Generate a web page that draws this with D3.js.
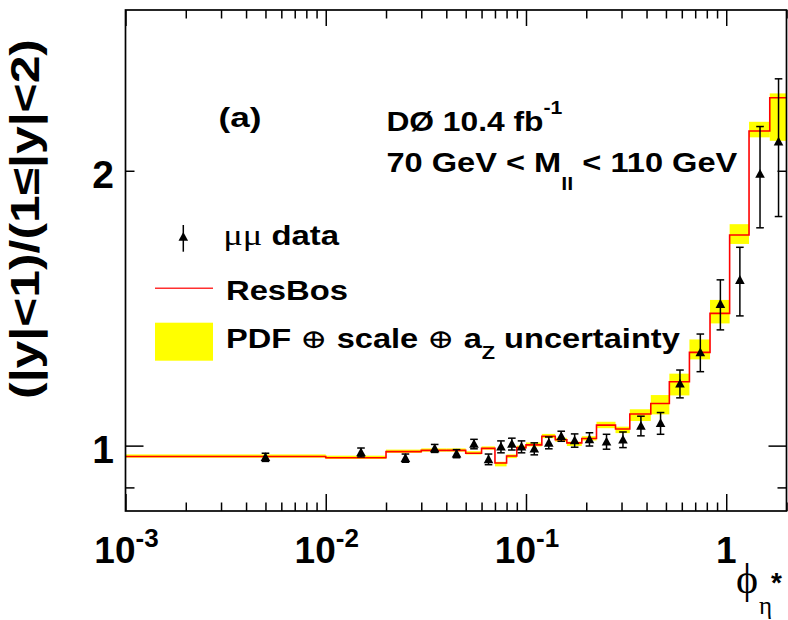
<!DOCTYPE html>
<html><head><meta charset="utf-8">
<script src="https://cdn.jsdelivr.net/npm/d3@7"></script>
<style>body{margin:0;background:#fff} svg{display:block}</style>
</head><body><svg id="c" width="788" height="620"></svg>
<script>
// ---------- data ----------
const binEdges = [0,0.01,0.02,0.03,0.04,0.05,0.06,0.07,0.08,0.09,0.10,0.12,0.14,0.16,0.19,0.225,0.28,0.33,0.42,0.52,0.655,0.83,1.04,1.30,1.65,2.0];
const resbos   = [0.973,0.970,0.985,0.988,0.988,0.981,0.993,0.957,0.974,0.995,1.002,1.024,1.015,1.007,1.018,1.053,1.043,1.083,1.112,1.175,1.265,1.396,1.701,2.211,2.404];
const bandLow  = [0.970,0.967,0.982,0.985,0.985,0.978,0.990,0.949,0.969,0.991,0.998,1.019,1.010,0.999,1.013,1.045,1.032,1.064,1.082,1.135,1.243,1.361,1.663,2.176,2.157];
const bandHigh = [0.978,0.975,0.990,0.993,0.993,0.986,0.998,0.960,0.978,1.000,1.008,1.030,1.020,1.010,1.024,1.062,1.049,1.096,1.136,1.199,1.307,1.444,1.748,2.263,2.431];
const dataX   = [0.005,0.015,0.025,0.035,0.045,0.055,0.065,0.075,0.085,0.095,0.11,0.13,0.15,0.175,0.2075,0.2525,0.305,0.375,0.47,0.5875,0.7425,0.935,1.17,1.475,1.825];
const dataY   = [0.971,0.983,0.969,0.993,0.980,1.004,0.966,0.997,1.004,0.997,0.992,1.007,1.024,1.013,1.016,1.010,1.015,1.051,1.058,1.169,1.265,1.429,1.518,1.984,2.152];
const dataErr = [0.010,0.011,0.010,0.010,0.010,0.012,0.013,0.015,0.015,0.015,0.015,0.015,0.013,0.017,0.017,0.019,0.020,0.026,0.029,0.041,0.060,0.090,0.131,0.252,0.370];
const xMajorTicks = [0.001,0.01,0.1,1];
const xTickBase   = ["10","10","10","1"];
const xTickExp    = ["-3","-2","-1",""];
const yLongTicks  = [1];
const yShortTicks = [0.9,2];
const yTickValues = [1,2];
const yTickLabels = ["1","2"];

// ---------- layout ----------
const L=125.5,R=786.5,T=10,B=511;
const svg=d3.select("#c");
const x=d3.scaleLog().domain([1e-3,2]).range([L,R]);
const y=d3.scaleLog().domain([0.848,3]).range([B,T]);
const cx=v=>x(Math.max(v,1e-3));
const SANS="'Liberation Sans',Arial,Helvetica,sans-serif";
const SERIF="'Liberation Serif','DejaVu Serif',serif";

const plot=svg.append("g");
// uncertainty band
plot.selectAll("rect.band").data(resbos).enter().append("rect")
  .attr("x",(d,i)=>cx(binEdges[i])).attr("width",(d,i)=>cx(binEdges[i+1])-cx(binEdges[i]))
  .attr("y",(d,i)=>y(bandHigh[i])).attr("height",(d,i)=>y(bandLow[i])-y(bandHigh[i]))
  .attr("fill","#ffff00");
// ResBos histogram
const stepPts=resbos.map((v,i)=>[binEdges[i],v]).concat([[binEdges[binEdges.length-1],resbos[resbos.length-1]]]);
plot.append("path").datum(stepPts)
  .attr("d",d3.line().x(d=>cx(d[0])).y(d=>y(d[1])).curve(d3.curveStepAfter))
  .attr("fill","none").attr("stroke","#ff0000").attr("stroke-width",1.6);

// data points
const tri="M0,-5L4.8,3.8L-4.8,3.8Z";
const pts=plot.selectAll("g.pt").data(dataY).enter().append("g")
  .attr("transform",(d,i)=>`translate(${x(dataX[i])},0)`);
pts.append("line").attr("x1",0).attr("x2",0)
  .attr("y1",(d,i)=>y(d+dataErr[i])).attr("y2",(d,i)=>y(d-dataErr[i]))
  .attr("stroke","#000").attr("stroke-width",1.5);
pts.append("line").attr("x1",-3.8).attr("x2",3.8)
  .attr("y1",(d,i)=>y(d+dataErr[i])).attr("y2",(d,i)=>y(d+dataErr[i]))
  .attr("stroke","#000").attr("stroke-width",1.5);
pts.append("line").attr("x1",-3.8).attr("x2",3.8)
  .attr("y1",(d,i)=>y(d-dataErr[i])).attr("y2",(d,i)=>y(d-dataErr[i]))
  .attr("stroke","#000").attr("stroke-width",1.5);
pts.append("path").attr("d",tri).attr("transform",d=>`translate(0,${y(d)})`).attr("fill","#000");

// ---------- axes ----------
const xMinor=x.ticks(40).filter(v=>!xMajorTicks.some(m=>Math.abs(m-v)/m<1e-6));
function styleAxis(g){g.select(".domain").remove();g.selectAll("text").remove();
  g.selectAll("line").attr("stroke","#000").attr("stroke-width",1.5);}
svg.append("g").attr("transform",`translate(0,${B})`).call(d3.axisBottom(x).tickValues(xMajorTicks).tickSize(-17).tickSizeOuter(0)).call(styleAxis);
svg.append("g").attr("transform",`translate(0,${B})`).call(d3.axisBottom(x).tickValues(xMinor).tickSize(-8.5).tickSizeOuter(0)).call(styleAxis);
svg.append("g").attr("transform",`translate(0,${T})`).call(d3.axisTop(x).tickValues(xMajorTicks).tickSize(-16).tickSizeOuter(0)).call(styleAxis);
svg.append("g").attr("transform",`translate(0,${T})`).call(d3.axisTop(x).tickValues(xMinor).tickSize(-8.5).tickSizeOuter(0)).call(styleAxis);
svg.append("g").attr("transform",`translate(${L},0)`).call(d3.axisLeft(y).tickValues(yLongTicks).tickSize(-18).tickSizeOuter(0)).call(styleAxis);
svg.append("g").attr("transform",`translate(${L},0)`).call(d3.axisLeft(y).tickValues(yShortTicks).tickSize(-9).tickSizeOuter(0)).call(styleAxis);
svg.append("g").attr("transform",`translate(${R},0)`).call(d3.axisRight(y).tickValues(yLongTicks).tickSize(-18).tickSizeOuter(0)).call(styleAxis);
svg.append("g").attr("transform",`translate(${R},0)`).call(d3.axisRight(y).tickValues(yShortTicks).tickSize(-9).tickSizeOuter(0)).call(styleAxis);
// frame
svg.append("rect").attr("x",L).attr("y",T).attr("width",R-L).attr("height",B-T)
  .attr("fill","none").attr("stroke","#000").attr("stroke-width",1.7);

// tick labels
xMajorTicks.forEach((v,i)=>{
  const t=svg.append("text").attr("x",x(v)+(xTickExp[i]?1:0)).attr("y",563).attr("text-anchor","middle")
    .attr("font-family",SANS).attr("font-weight","bold").attr("font-size",37);
  t.append("tspan").text(xTickBase[i]);
  if(xTickExp[i]) t.append("tspan").attr("font-size",26).attr("dy",-16).text(xTickExp[i]);
});
yTickValues.forEach((v,i)=>{
  svg.append("text").attr("x",114).attr("y",y(v)+17.5).attr("text-anchor","end")
    .attr("font-family",SANS).attr("font-weight","bold").attr("font-size",39).text(yTickLabels[i]);
});

// helper: stretched text
function stext(tx,ty,target,build,rot){
  const g=svg.append("g").attr("transform",`translate(${tx},${ty})`+(rot?` rotate(${rot})`:""));
  const t=g.append("text").attr("font-family",SANS).attr("font-weight","bold").attr("font-size",27);
  build(t);
  const w=t.node().getBBox().width;
  t.attr("transform",`scale(${target/w},1)`);
  return t;
}
// axis titles
stext(39,219,360,t=>{t.attr("font-size",40).attr("text-anchor","middle").text("(|y|<1)/(1≤|y|<2)");},-90);
svg.append("text").attr("x",736).attr("y",593).attr("font-family",SERIF).attr("font-size",42).text("ϕ");
svg.append("text").attr("x",759).attr("y",614).attr("font-family",SERIF).attr("font-size",25).text("η");
svg.append("text").attr("x",771).attr("y",592).attr("font-family",SANS).attr("font-weight","bold").attr("font-size",28).text("*");

// labels in plot
stext(218.6,127,43,t=>t.text("(a)"));
stext(386.4,130.7,176,t=>{t.append("tspan").text("DØ 10.4 fb");t.append("tspan").attr("font-size",18).attr("dy",-17).text("-1");});
stext(386.4,171.7,351,t=>{t.append("tspan").text("70 GeV < M");t.append("tspan").attr("font-size",18).attr("dy",18).text("ll");
  t.append("tspan").attr("dy",-18).text(" < 110 GeV");});

// legend
svg.append("line").attr("x1",183.3).attr("x2",183.3).attr("y1",225).attr("y2",251.7).attr("stroke","#000").attr("stroke-width",1.5);
svg.append("path").attr("d",tri).attr("transform","translate(183.3,237)").attr("fill","#000");
stext(223.3,245,117,t=>{t.append("tspan").attr("font-family",SERIF).attr("font-weight","normal").attr("font-size",30).text("μμ");t.append("tspan").text(" data");});
svg.append("line").attr("x1",155).attr("x2",213).attr("y1",288.3).attr("y2",288.3).attr("stroke","#ff3030").attr("stroke-width",1.4);
stext(226,300,122,t=>t.text("ResBos"));
svg.append("rect").attr("x",155).attr("y",322.7).attr("width",58).attr("height",38).attr("fill","#ffff00");
stext(226,347.5,454,t=>{t.append("tspan").text("PDF ");t.append("tspan").attr("font-family",SERIF).attr("font-weight","normal").text("⊕");
  t.append("tspan").text(" scale ");t.append("tspan").attr("font-family",SERIF).attr("font-weight","normal").text("⊕");
  t.append("tspan").text(" a");t.append("tspan").attr("font-size",18).attr("dy",11).text("Z");
  t.append("tspan").attr("dy",-11).text(" uncertainty");});
</script></body></html>
